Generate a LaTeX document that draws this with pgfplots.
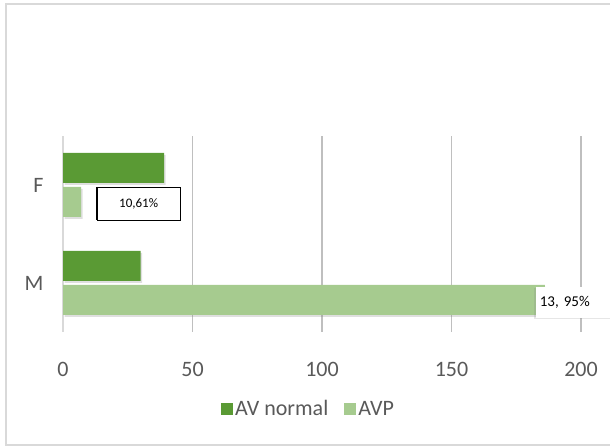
\documentclass[border=0pt]{standalone}
\usepackage{pgfplots}
\pgfplotsset{compat=1.18}
\usetikzlibrary{shadows}
\usepackage{fontspec}
\setmainfont{Carlito}
\definecolor{txt}{HTML}{595959}
\definecolor{grid}{HTML}{D9D9D9}
\definecolor{dgreen}{HTML}{5A9A34}
\definecolor{lgreen}{HTML}{A6CB8F}
\begin{document}
\begin{tikzpicture}[x=1bp,y=1bp]
\path[use as bounding box] (0,0) rectangle (610,447);
\clip (0,0) rectangle (610,447);
\draw[draw=grid,line width=2bp] (6,2) rectangle (640,443);
\begin{axis}[
  at={(63bp,115bp)}, anchor=south west,
  scale only axis, width=518bp, height=196bp,
  xmin=0, xmax=200, ymin=-0.5, ymax=1.5,
  xbar, bar width=30bp, clip=false,
  xtick={0,50,100,150,200},
  ytick={0,1}, yticklabels={M,F},
  xmajorgrids, ymajorgrids=false, major grid style={grid,line width=1.2bp},
  axis x line*=bottom, axis y line*=left,
  x axis line style={draw=none},
  y axis line style={draw=grid,line width=1.5bp},
  major tick length=0pt, xtick style={draw=none}, ytick style={draw=none},
  tick label style={font=\fontsize{22bp}{26bp}\selectfont, text=txt},
  /pgf/number format/assume math mode=true,
  xticklabel style={yshift=-27bp},
  yticklabel style={xshift=-16bp},
  legend style={draw=none, fill=none, at={(0.474,-0.393)}, anchor=center,
    legend columns=2, font=\fontsize{22bp}{26bp}\selectfont, text=txt,
    /tikz/every even column/.append style={column sep=14bp}},
  legend image code/.code={\fill[#1] (0bp,-6bp) rectangle (12bp,6bp);},
]
\addlegendimage{fill=dgreen, draw=none}
\addlegendentry{AV normal}
\addlegendimage{fill=lgreen, draw=none}
\addlegendentry{AVP}
\addplot[forget plot, fill=dgreen, draw=none, bar shift=17bp,
  drop shadow={shadow xshift=1.5bp, shadow yshift=-2bp, opacity=0.25}] coordinates {(30,0) (39,1)};
\addplot[forget plot, fill=lgreen, draw=none, bar shift=-17bp,
  drop shadow={shadow xshift=1.5bp, shadow yshift=-2bp, opacity=0.25}] coordinates {(186,0) (7,1)};
\node[draw=black, line width=0.5bp, fill=white, minimum width=83bp, minimum height=33bp,
  font=\fontsize{13bp}{15bp}\selectfont] (a) at (axis cs:29.2,0.811) {10,61\%};
\draw[line width=2bp] (a.north west) -- (a.south west);
\node[fill=white, anchor=west, minimum height=31bp, text width=70bp, inner sep=4bp,
  drop shadow={shadow xshift=-1.5bp, shadow yshift=-1.5bp, opacity=0.2},
  font=\fontsize{15bp}{17bp}\selectfont] at (axis cs:182.5,-0.199) {13, 95\%};
\end{axis}
\end{tikzpicture}
\end{document}
